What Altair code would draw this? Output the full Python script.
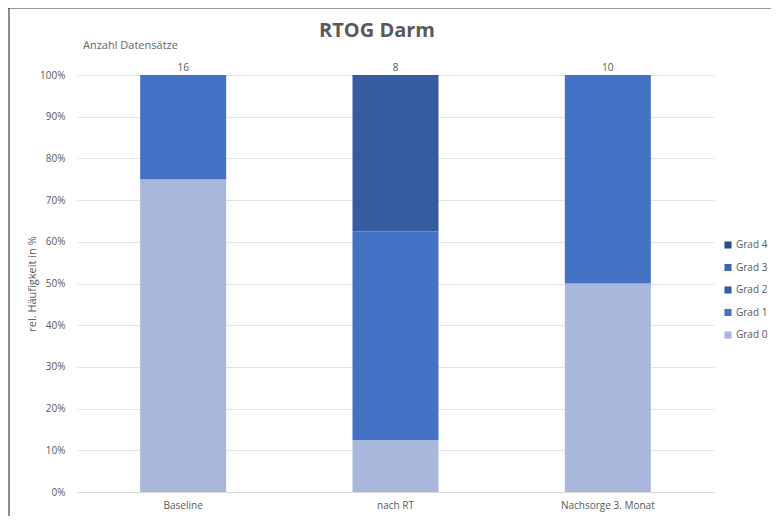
import altair as alt
import pandas as pd

categories = ["Baseline", "nach RT", "Nachsorge 3. Monat"]
grades = ["Grad 0", "Grad 1", "Grad 2", "Grad 3", "Grad 4"]
counts = [16, 8, 10]
grad0 = [75.0, 12.5, 50.0]
grad1 = [25.0, 50.0, 50.0]
grad2 = [0.0, 37.5, 0.0]
grad3 = [0.0, 0.0, 0.0]
grad4 = [0.0, 0.0, 0.0]
colors = ["#A9B7DC", "#4472C4", "#365C9F", "#3F67B5", "#2E4D86"]

rows = []
for i, c in enumerate(categories):
    for g, vals in zip(grades, [grad0, grad1, grad2, grad3, grad4]):
        rows.append({"cat": c, "grade": g, "value": vals[i] / 100.0, "order": grades.index(g)})
df = pd.DataFrame(rows)
cdf = pd.DataFrame({"cat": categories, "n": counts, "top": [1.0] * 3})
one = pd.DataFrame({"k": [0]})

FONT = "Open Sans"
W, H = 637, 417

x = alt.X("cat:N", sort=categories, title=None,
          scale=alt.Scale(paddingInner=0.595, paddingOuter=0.2975),
          axis=alt.Axis(labelAngle=0, labelFontSize=10, labelColor="#595959", labelFont=FONT,
                        domainColor="#D9D9D9", ticks=False, labelPadding=8))

bars = alt.Chart(df).mark_bar().encode(
    x=x,
    y=alt.Y("value:Q", stack="zero", title="rel. Häufigkeit in %",
            scale=alt.Scale(domain=[0, 1], nice=False),
            axis=alt.Axis(format=".0%", values=[i / 10 for i in range(11)], labelFontSize=10,
                          labelColor="#595959", labelFont=FONT, gridColor="#E3E3E3", domain=False,
                          ticks=False, labelPadding=12, titleFontSize=11, titleFont=FONT,
                          titleColor="#595959", titleFontWeight="normal", titlePadding=2)),
    color=alt.Color("grade:N", scale=alt.Scale(domain=grades[::-1], range=colors[::-1]),
                    legend=alt.Legend(title=None, orient="none", legendX=646, legendY=165,
                                      symbolType="square", symbolSize=50, labelFontSize=10,
                                      labelFont=FONT, labelColor="#595959", rowPadding=12.5,
                                      symbolStrokeWidth=0, labelLimit=60, labelOffset=3)),
    order=alt.Order("order:Q"),
)

labels = alt.Chart(cdf).mark_text(dy=-7, fontSize=10, font=FONT, color="#595959").encode(
    x=alt.X("cat:N", sort=categories), y=alt.Y("top:Q"), text="n:Q")

subtitle = alt.Chart(one).mark_text(align="left", fontSize=11, font=FONT, color="#666666",
                                    fontWeight="normal").encode(
    x=alt.value(6), y=alt.value(-29), text=alt.value("Anzahl Datensätze"))

title = alt.Chart(one).mark_text(align="center", baseline="middle", fontSize=20, font=FONT,
                                 color="#595959", fontWeight="bold").encode(
    x=alt.value(300), y=alt.value(-44), text=alt.value("RTOG Darm"))

left_line = alt.Chart(one).mark_rect(color="#8C8C8C").encode(
    x=alt.value(-69), x2=alt.value(-67), y=alt.value(-68), y2=alt.value(H + 40))
top_line = alt.Chart(one).mark_rect(color="#333333").encode(
    x=alt.value(-69), x2=alt.value(W + 80), y=alt.value(-68.5), y2=alt.value(-66.5))

chart = alt.layer(bars, labels, subtitle, title, left_line, top_line).properties(
    width=W, height=H,
    autosize=alt.AutoSizeParams(type="none"),
    padding={"left": 69, "top": 67, "right": 57, "bottom": 24},
).configure(background="white").configure_view(stroke=None)

chart.save("out.html", embed_options={"renderer": "svg", "actions": False})
